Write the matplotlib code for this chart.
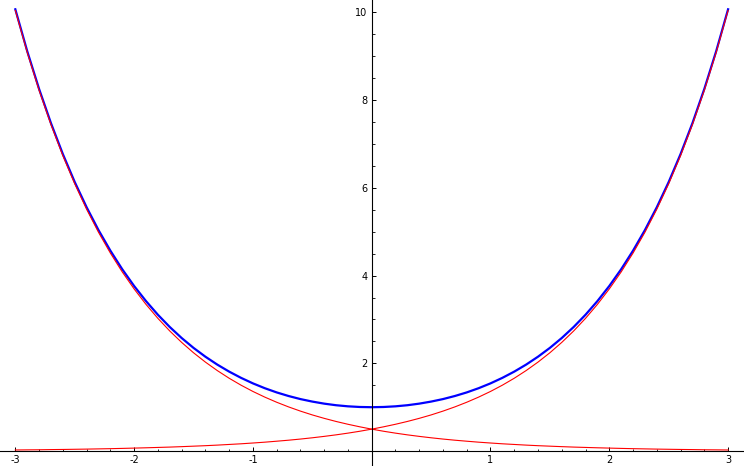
import matplotlib
matplotlib.use("Agg")
import matplotlib.pyplot as plt
from matplotlib.ticker import MultipleLocator

# x from -3 to 3 in steps of 0.1
x = [round(-3 + 0.1 * i, 1) for i in range(61)]

# rising red curve
rising = [0.025, 0.028, 0.030, 0.034, 0.037, 0.041, 0.045, 0.050, 0.055, 0.061,
          0.068, 0.075, 0.083, 0.091, 0.101, 0.112, 0.123, 0.136, 0.151, 0.166,
          0.184, 0.203, 0.225, 0.248, 0.274, 0.303, 0.335, 0.370, 0.409, 0.452,
          0.500, 0.553, 0.611, 0.675, 0.746, 0.824, 0.911, 1.007, 1.113, 1.230,
          1.359, 1.502, 1.660, 1.835, 2.028, 2.241, 2.477, 2.737, 3.025, 3.343,
          3.695, 4.083, 4.513, 4.987, 5.512, 6.091, 6.732, 7.440, 8.222, 9.087,
          10.043]

# falling red curve
falling = [10.043, 9.087, 8.222, 7.440, 6.732, 6.091, 5.512, 4.987, 4.513, 4.083,
           3.695, 3.343, 3.025, 2.737, 2.477, 2.241, 2.028, 1.835, 1.660, 1.502,
           1.359, 1.230, 1.113, 1.007, 0.911, 0.824, 0.746, 0.675, 0.611, 0.553,
           0.500, 0.452, 0.409, 0.370, 0.335, 0.303, 0.274, 0.248, 0.225, 0.203,
           0.184, 0.166, 0.151, 0.136, 0.123, 0.112, 0.101, 0.091, 0.083, 0.075,
           0.068, 0.061, 0.055, 0.050, 0.045, 0.041, 0.037, 0.034, 0.030, 0.028,
           0.025]

# blue curve
blue = [10.068, 9.115, 8.253, 7.473, 6.769, 6.132, 5.557, 5.037, 4.568, 4.144,
        3.762, 3.418, 3.107, 2.828, 2.577, 2.352, 2.151, 1.971, 1.811, 1.669,
        1.543, 1.433, 1.337, 1.255, 1.185, 1.128, 1.081, 1.045, 1.020, 1.005,
        1.000, 1.005, 1.020, 1.045, 1.081, 1.128, 1.185, 1.255, 1.337, 1.433,
        1.543, 1.669, 1.811, 1.971, 2.151, 2.352, 2.577, 2.828, 3.107, 3.418,
        3.762, 4.144, 4.568, 5.037, 5.557, 6.132, 6.769, 7.473, 8.253, 9.115,
        10.068]

x_ticks = [-3, -2, -1, 1, 2, 3]
y_ticks = [2, 4, 6, 8, 10]

fig = plt.figure(figsize=(7.44, 4.66), dpi=100)
ax = fig.add_axes([0, 0, 1, 1])

# blue underneath, red drawn over it
ax.plot(x, blue, color="blue", lw=1.6)
ax.plot(x, rising, color="red", lw=0.8)
ax.plot(x, falling, color="red", lw=0.8)

ax.set_xlim(-3.129, 3.134)
ax.set_ylim(-0.34, 10.28)

ax.spines["left"].set_position(("data", 0))
ax.spines["bottom"].set_position(("data", 0))
ax.spines["top"].set_visible(False)
ax.spines["right"].set_visible(False)
for s in ["left", "bottom"]:
    ax.spines[s].set_linewidth(0.8)

ax.set_xticks(x_ticks)
ax.set_xticklabels([str(t) for t in x_ticks])
ax.set_yticks(y_ticks)
ax.set_yticklabels([str(t) for t in y_ticks])
ax.xaxis.set_minor_locator(MultipleLocator(0.2))
ax.yaxis.set_minor_locator(MultipleLocator(0.5))

ax.tick_params(which="major", direction="in", length=3, width=0.7, labelsize=7, pad=3)
ax.tick_params(which="minor", direction="in", length=1.8, width=0.6)

fig.savefig("out.png", dpi=100)
